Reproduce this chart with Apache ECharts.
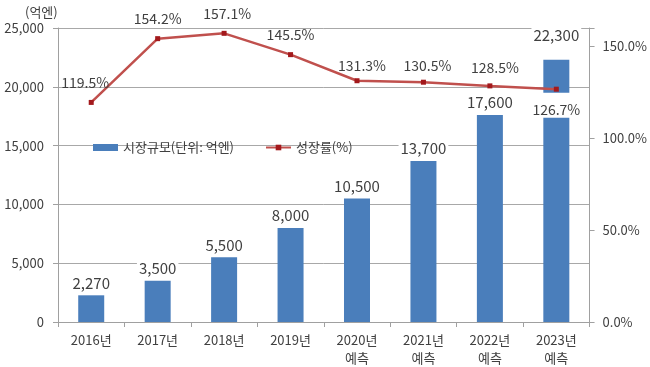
<!DOCTYPE html>
<html>
<head>
<meta charset="utf-8">
<script src="https://cdn.jsdelivr.net/npm/echarts@6/dist/echarts.min.js"></script>
<style>
html,body{margin:0;padding:0;background:#fff;}
#c{width:650px;height:367px;}
</style>
</head>
<body>
<div id="c"></div>
<script>
const categories = ['2016년', '2017년', '2018년', '2019년', '2020년\n예측', '2021년\n예측', '2022년\n예측', '2023년\n예측'];
const marketSize = [2270, 3500, 5500, 8000, 10500, 13700, 17600, 22300];
const growthRate = [119.5, 154.2, 157.1, 145.5, 131.3, 130.5, 128.5, 126.7];
const leftTicks = [0, 5000, 10000, 15000, 20000, 25000];
const rightTicks = [0, 50, 100, 150];

const FONT = '"Noto Sans CJK KR", "Noto Sans", sans-serif';
const TXT = '#404040';
const lineOffsets = [[-6, -3], [0, -3], [3, -3], [0, -3], [5, 1], [4, 0], [5, -2]];

const barData = marketSize.map((v, i) => {
  const d = { value: v };
  if (i === 7) d.label = { offset: [0, -12] };
  return d;
});
const lineData = growthRate.map((v, i) => {
  const d = { value: v };
  if (i === 7) {
    d.label = { position: 'bottom', distance: 1, backgroundColor: '#fff', padding: [10, 2, 1, 2] };
  } else {
    d.label = { offset: lineOffsets[i] };
  }
  return d;
});

const chart = echarts.init(document.getElementById('c'));
chart.setOption({
  animation: false,
  textStyle: { fontFamily: FONT },
  title: {
    text: '(억엔)', left: 20, top: 1,
    textStyle: { fontSize: 13, fontWeight: 'normal', color: TXT, fontFamily: FONT }
  },
  grid: { left: 58, right: 60, top: 28, bottom: 44 },
  legend: {
    left: 88, top: 136, itemWidth: 25, itemHeight: 7, itemGap: 31,
    textStyle: { fontSize: 13, color: TXT, fontFamily: FONT },
    data: [
      { name: '시장규모(단위: 억엔)', icon: 'rect' },
      { name: '성장률(%)' }
    ]
  },
  xAxis: {
    type: 'category', data: categories,
    axisLine: { lineStyle: { color: '#a0a0a0', width: 1 } },
    axisTick: { show: true, length: 5, lineStyle: { color: '#a0a0a0' } },
    axisLabel: { color: TXT, fontSize: 13, fontFamily: FONT, margin: 9, lineHeight: 18, interval: 0 }
  },
  yAxis: [
    {
      type: 'value', min: 0, max: 25000, interval: 5000,
      axisLine: { show: true, lineStyle: { color: '#a0a0a0' } },
      axisTick: { show: true, length: 5, lineStyle: { color: '#a0a0a0' } },
      splitLine: { lineStyle: { color: '#a8a8a8', width: 1 } },
      axisLabel: {
        color: TXT, fontSize: 13, fontFamily: FONT, margin: 14,
        formatter: v => leftTicks.includes(v) ? v.toLocaleString('en-US') : ''
      }
    },
    {
      type: 'value', min: 0, max: 160, interval: 50,
      axisLine: { show: true, lineStyle: { color: '#a0a0a0' } },
      axisTick: { show: true, length: 5, lineStyle: { color: '#a0a0a0' } },
      splitLine: { show: false },
      axisLabel: {
        color: TXT, fontSize: 13, fontFamily: FONT, margin: 13,
        formatter: v => rightTicks.includes(v) ? v.toFixed(1) + '%' : ''
      }
    }
  ],
  series: [
    {
      name: '시장규모(단위: 억엔)', type: 'bar', yAxisIndex: 0, barWidth: 26,
      itemStyle: { color: '#4a7ebb' },
      data: barData,
      label: {
        show: true, position: 'top', distance: 4, color: TXT, fontSize: 15, fontFamily: FONT,
        backgroundColor: '#fff', padding: [1, 2, 1, 2],
        formatter: p => p.value.toLocaleString('en-US')
      },
      z: 2
    },
    {
      name: '성장률(%)', type: 'line', yAxisIndex: 1,
      data: lineData,
      lineStyle: { color: '#c0504d', width: 2.5 },
      itemStyle: { color: '#a3191c' },
      symbol: 'rect', symbolSize: 5, showAllSymbol: true,
      label: {
        show: true, position: 'top', distance: 7, color: TXT, fontSize: 14, fontFamily: FONT,
        formatter: p => p.value.toFixed(1) + '%'
      },
      z: 5
    }
  ]
});
</script>
</body>
</html>
